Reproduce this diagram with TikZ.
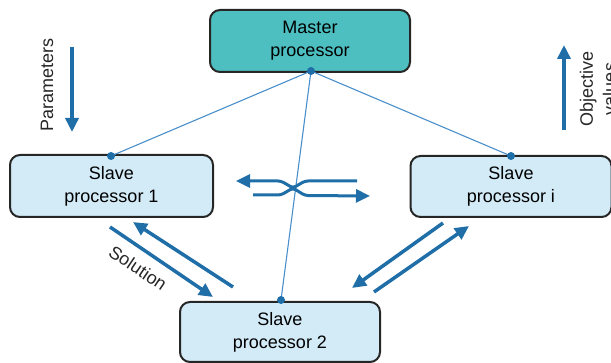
\documentclass[tikz,border=0pt]{standalone}
\usepackage{fontspec}
\setmainfont{Liberation Sans}
\usetikzlibrary{arrows.meta}
\definecolor{teal1}{HTML}{4DBFC0}
\definecolor{lblue}{HTML}{D2EBF7}
\definecolor{arrblue}{HTML}{1F6EA8}
\definecolor{thinblue}{HTML}{4A8FC9}
\tikzset{
  proc/.style={draw=black!85, line width=2pt, rounded corners=10pt, align=center, font=\fontsize{18}{23}\selectfont, inner sep=0pt},
  thick arrow/.style={draw=arrblue, line width=3.5pt, -{Triangle[length=14pt,width=13pt]}},
  thin line/.style={draw=thinblue, line width=1.1pt},
  dotc/.style={circle, fill=arrblue, inner sep=0pt, minimum size=8pt},
  lab/.style={font=\fontsize{18}{23}\selectfont, align=center, text=black!85}
}
\begin{document}
\begin{tikzpicture}[x=1pt,y=-1pt]
\useasboundingbox (0,0) rectangle (611,363);
% boxes
\node[proc, fill=teal1, minimum width=200pt, minimum height=62pt] (master) at (310,41) {Master\\processor};
\node[proc, fill=lblue, minimum width=203pt, minimum height=62pt] (s1) at (111.5,186) {Slave\\processor 1};
\node[proc, fill=lblue, minimum width=201pt, minimum height=61pt] (si) at (511,186.5) {Slave\\processor i};
\node[proc, fill=lblue, minimum width=200pt, minimum height=60pt] (s2) at (280,332) {Slave\\processor 2};
% dots
\coordinate (md) at (311,71);
\coordinate (d1) at (111,156);
\coordinate (di) at (511,156);
\coordinate (d2) at (281,300);
\draw[thin line] (md) -- (d1);
\draw[thin line] (md) -- (di);
\draw[thin line] (md) -- (d2);
\node[dotc] (mdot) at (md) {};
\node[dotc] (dot1) at (d1) {};
\node[dotc] (doti) at (di) {};
\node[dotc] (dot2) at (d2) {};
% side labels and arrows
\node[lab, rotate=90] (par) at (47,85) {Parameters};
\coordinate (pa1) at (72,47);
\coordinate (pa2) at (72,132);
\draw[thick arrow] (pa1) -- (pa2);
\node[lab, rotate=90] (obj) at (598,89) {Objective\\values};
\coordinate (oa1) at (564,130);
\coordinate (oa2) at (564,45);
\draw[thick arrow] (oa1) -- (oa2);
% crossing arrows
\coordinate (c1) at (357,181);
\coordinate (c2) at (236,181);
\coordinate (c3) at (253,195);
\coordinate (c4) at (370,196);
\draw[thick arrow, line width=3pt, rounded corners=3pt] (c1) -- (305,181) -- (293,188) -- (281,181) -- (c2);
\draw[thick arrow, line width=3pt, rounded corners=3pt] (c3) -- (281,195) -- (293,188) -- (305,195.5) -- (c4);
% solution arrows
\coordinate (a1s) at (110,227);
\coordinate (a1e) at (213,297);
\coordinate (a2s) at (233,287);
\coordinate (a2e) at (133,222);
\draw[thick arrow] (a1s) -- (a1e);
\draw[thick arrow] (a2s) -- (a2e);
\node[lab, rotate=-34] (sol) at (138,268) {Solution};
\coordinate (a3s) at (443,223);
\coordinate (a3e) at (352,288);
\coordinate (a4s) at (374,292);
\coordinate (a4e) at (469,226);
\draw[thick arrow] (a3s) -- (a3e);
\draw[thick arrow] (a4s) -- (a4e);
\end{tikzpicture}
\end{document}
